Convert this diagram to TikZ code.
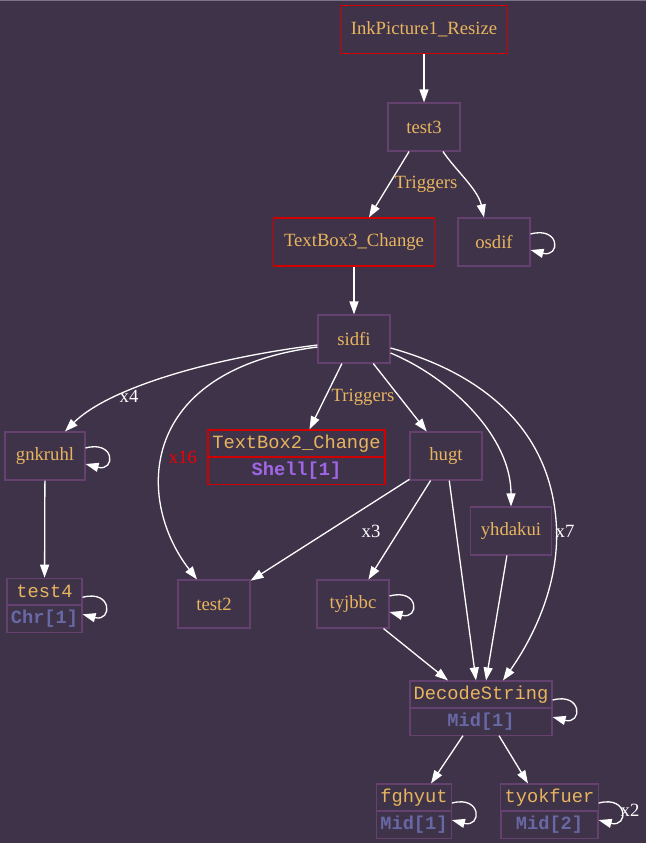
\documentclass[tikz,border=0pt]{standalone}
\usepackage{fontspec}
\setmainfont{Liberation Serif}
\setmonofont{Liberation Mono}
\usetikzlibrary{arrows.meta,positioning,calc}
\definecolor{bgpurple}{HTML}{3F334A}
\definecolor{topgrey}{HTML}{7A7484}
\definecolor{boxpurple}{HTML}{64416F}
\definecolor{txtorange}{HTML}{E8B55E}
\definecolor{evred}{HTML}{D00000}
\definecolor{cntred}{HTML}{F00000}
\definecolor{midblue}{HTML}{6868A4}
\definecolor{shellviolet}{HTML}{A066E6}
\newcommand{\gvfont}{\fontsize{18.7}{22}\selectfont}
\begin{document}
\begin{tikzpicture}[x=1pt, y=-1pt]
    % 通用样式
    \tikzstyle{node_fn} = [rectangle, draw=boxpurple, line width=1.1pt, text=txtorange, font=\gvfont, minimum width=72pt, minimum height=48pt, inner xsep=10.5pt, inner ysep=0pt]
    \tikzstyle{node_ev} = [node_fn, draw=evred, line width=1.3pt]
    \tikzstyle{rec_top} = [rectangle, draw=boxpurple, line width=1.1pt, text=txtorange, font=\gvfont\ttfamily, minimum height=26.5pt, inner xsep=3.7pt, inner ysep=0pt]
    \tikzstyle{rec_bot} = [rec_top, text=midblue, font=\gvfont\ttfamily\bfseries]
    \tikzstyle{arrow_flow} = [-{Triangle[length=13pt, width=9pt]}, line width=1.3pt, white]
    \tikzstyle{lbl_trig} = [text=txtorange, font=\gvfont]
    \tikzstyle{lbl_cnt} = [text=white, font=\gvfont]

    \fill[bgpurple] (0,0) rectangle (646,843);
    \fill[topgrey] (0,0) rectangle (646,1.2);
    \useasboundingbox (0,0) rectangle (646,843);

    % ================= 节点 =================
    \node[node_ev] (ink) at (424,29.5) {InkPicture1\_Resize};
    \node[node_fn] (test3) at (424,127) {test3};
    \node[node_ev] (tb3) at (354,242) {TextBox3\_Change};
    \node[node_fn] (osdif) at (494,242) {osdif};
    \node[node_fn] (sidfi) at (354,339) {sidfi};
    \node[node_fn, minimum width=80pt] (gnk) at (45,456) {gnkruhl};
    \node[node_fn] (hugt) at (446,456) {hugt};
    \node[node_fn] (yhd) at (511,531) {yhdakui};
    \node[node_fn] (test2) at (214,604) {test2};
    \node[node_fn] (tyj) at (353,604) {tyjbbc};

    % 记录节点 (上下两格)
    \node[rec_top, draw=evred, line width=1.3pt, minimum width=177pt] (tb2) at (296.5,443.25) {TextBox2\_Change};
    \node[rec_bot, draw=evred, line width=1.3pt, text=shellviolet, minimum width=177pt, below=0pt of tb2] (tb2_m) {Shell[1]};
    \node[rec_top, minimum width=75pt] (test4) at (44.5,591.5) {test4};
    \node[rec_bot, minimum width=75pt, below=0pt of test4] (test4_m) {Chr[1]};
    \node[rec_top, minimum width=142pt] (dec) at (481,694.25) {DecodeString};
    \node[rec_bot, minimum width=142pt, below=0pt of dec] (dec_m) {Mid[1]};
    \node[rec_top, minimum width=74pt] (fgh) at (414,797.25) {fghyut};
    \node[rec_bot, minimum width=74pt, below=0pt of fgh] (fgh_m) {Mid[1]};
    \node[rec_top, minimum width=97pt] (tyok) at (549.5,797.25) {tyokfuer};
    \node[rec_bot, minimum width=97pt, below=0pt of tyok] (tyok_m) {Mid[2]};

    % ================= 连线 =================
    \draw[arrow_flow] (ink) -- (test3);
    \draw[arrow_flow] (test3) -- (tb3);
    \node[lbl_trig] (trig1) at (426,184) {Triggers};
    \draw[arrow_flow] ($(test3.south)+(19,0)$) .. controls +(12,18) and +(-6,-28) .. ($(osdif.north)+(-10,0)$);
    \draw[arrow_flow] (tb3) -- (sidfi);

    % sidfi 的出边
    \draw[arrow_flow] ($(sidfi.west)+(0,6)$) .. controls +(-120,15) and +(40,-40) .. ($(gnk.north)+(20,0)$);
    \node[lbl_cnt] (cnt4) at (129,396) {x4};
    \draw[arrow_flow] ($(sidfi.west)+(0,8)$) .. controls +(-180,23) and +(-62,-80) .. ($(test2.north)+(-17,0)$);
    \node[lbl_cnt, text=cntred] (cnt16) at (183,457) {x16};
    \draw[arrow_flow] (sidfi) -- ($(tb2.north)+(13,0)$);
    \node[lbl_trig] (trig2) at (363,397) {Triggers};
    \draw[arrow_flow] (sidfi) -- (hugt);
    \draw[arrow_flow] ($(sidfi.east)+(0,14)$) .. controls +(60,25) and +(0,-70) .. (yhd.north);
    \draw[arrow_flow] ($(sidfi.east)+(0,9)$) .. controls +(80,22) and +(-8,-100) .. (556,520)
        .. controls +(6,70) and +(22,-31) .. ($(dec.north)+(22,0)$);
    \node[lbl_cnt] (cnt7) at (565,531) {x7};

    % 下半部分
    \draw[arrow_flow] (gnk) -- (test4);
    \draw[arrow_flow] (hugt) -- (test2);
    \node[lbl_cnt] (cnt3) at (371,531) {x3};
    \draw[arrow_flow] (hugt) -- (tyj);
    \draw[arrow_flow] (hugt) -- ($(dec.north)+(-5,0)$);
    \draw[arrow_flow] (yhd) -- ($(dec.north)+(5,0)$);
    \draw[arrow_flow] (tyj) -- ($(dec.north)+(-33,0)$);
    \draw[arrow_flow] ($(dec_m.south)+(-18,0)$) -- ($(fgh.north)+(17,0)$);
    \draw[arrow_flow] ($(dec_m.south)+(18,0)$) -- ($(tyok.north)+(-21.5,0)$);

    % 自环
    \foreach \n in {osdif, gnk, tyj} {
        \draw[arrow_flow] ($(\n.east)+(0,-8)$) .. controls +(30,-8) and +(30,8) .. ($(\n.east)+(0,8)$);
    }
    \foreach \n in {test4, dec, fgh, tyok} {
        \draw[arrow_flow] ($(\n.south east)+(0,-8)$) .. controls +(30,-8) and +(30,8) .. ($(\n.south east)+(0,9)$);
    }
    \node[lbl_cnt] (cnt2) at (630,810) {x2};
\end{tikzpicture}
\end{document}
